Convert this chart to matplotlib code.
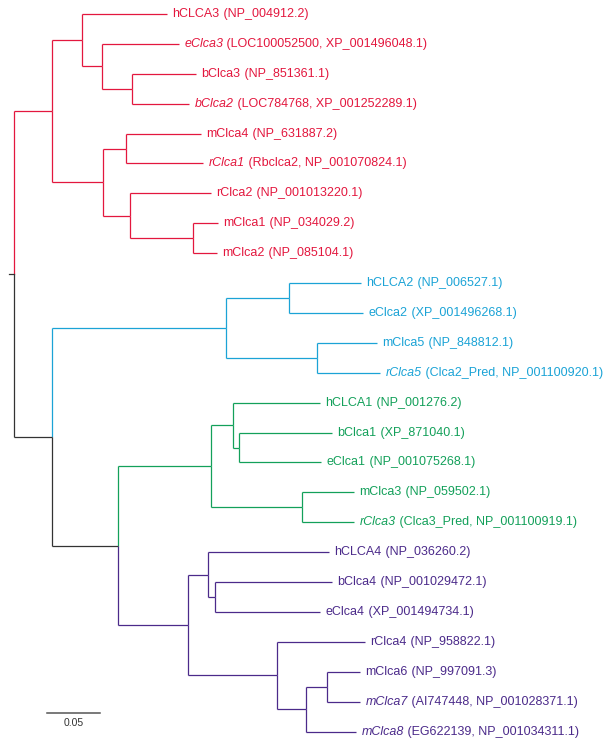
import matplotlib
matplotlib.use("Agg")
from matplotlib import pyplot as plt

plt.rcParams["font.family"] = "Liberation Sans"

# Tree topology: node -> [(child, branch length)], children listed top to bottom
children = {
    "root": [("A", 0.0358), ("I", 0.0358)],
    "A": [("B", 0.0283), ("E", 0.0481)],
    "B": [("hCLCA3", 0.0802), ("C", 0.0189)],
    "C": [("eClca3", 0.0726), ("D", 0.0283)],
    "D": [("bClca3", 0.0604), ("bClca2", 0.0538)],
    "E": [("F", 0.0217), ("G", 0.0255)],
    "F": [("mClca4", 0.0708), ("rClca1", 0.0726)],
    "G": [("rClca2", 0.0764), ("H", 0.0594)],
    "H": [("mClca1", 0.0236), ("mClca2", 0.0226)],
    "I": [("K", 0.1642), ("J", 0.0623)],
    "K": [("L", 0.0594), ("M", 0.0858)],
    "L": [("hCLCA2", 0.0679), ("eClca2", 0.0698)],
    "M": [("mClca5", 0.0566), ("rClca5", 0.0594)],
    "J": [("N", 0.0877), ("R", 0.0660)],
    "N": [("O", 0.0208), ("Q", 0.0858)],
    "O": [("hCLCA1", 0.0821), ("P", 0.0057)],
    "P": [("bClca1", 0.0877), ("eClca1", 0.0774)],
    "Q": [("mClca3", 0.0491), ("rClca3", 0.0491)],
    "R": [("S", 0.0189), ("U", 0.0840)],
    "S": [("hCLCA4", 0.1142), ("T", 0.0066)],
    "T": [("bClca4", 0.1104), ("eClca4", 0.0991)],
    "U": [("rClca4", 0.0830), ("V", 0.0274)],
    "V": [("W", 0.0198), ("mClca8", 0.0472)],
    "W": [("mClca6", 0.0311), ("mClca7", 0.0311)],
}

# Accession text shown after each leaf name
accessions = {
    "hCLCA3": "(NP_004912.2)",
    "eClca3": "(LOC100052500, XP_001496048.1)",
    "bClca3": "(NP_851361.1)",
    "bClca2": "(LOC784768, XP_001252289.1)",
    "mClca4": "(NP_631887.2)",
    "rClca1": "(Rbclca2, NP_001070824.1)",
    "rClca2": "(NP_001013220.1)",
    "mClca1": "(NP_034029.2)",
    "mClca2": "(NP_085104.1)",
    "hCLCA2": "(NP_006527.1)",
    "eClca2": "(XP_001496268.1)",
    "mClca5": "(NP_848812.1)",
    "rClca5": "(Clca2_Pred, NP_001100920.1)",
    "hCLCA1": "(NP_001276.2)",
    "bClca1": "(XP_871040.1)",
    "eClca1": "(NP_001075268.1)",
    "mClca3": "(NP_059502.1)",
    "rClca3": "(Clca3_Pred, NP_001100919.1)",
    "hCLCA4": "(NP_036260.2)",
    "bClca4": "(NP_001029472.1)",
    "eClca4": "(XP_001494734.1)",
    "rClca4": "(NP_958822.1)",
    "mClca6": "(NP_997091.3)",
    "mClca7": "(AI747448, NP_001028371.1)",
    "mClca8": "(EG622139, NP_001034311.1)",
}
italicNames = {"eClca3", "bClca2", "rClca1", "rClca5", "rClca3", "mClca7", "mClca8"}

red, blue, green, purple, black = "#e3173e", "#1ba3d6", "#13a05a", "#4b2a8a", "#333333"
cladeColors = {"root": black, "A": red, "I": black, "K": blue, "J": black,
               "N": green, "R": purple}

scaleBar = 0.05
fontSize = 9.0

fig = plt.figure(figsize=(6.13, 7.48), dpi=100)
ax = fig.add_axes([0, 0, 1, 1])
ax.axis("off")

leafCounter = [0]


def layout(node, x, color):
    color = cladeColors.get(node, color)
    if node not in children:
        y = leafCounter[0]
        leafCounter[0] += 1
        return y, [(node, x, y, color)]
    kids = []
    leaves = []
    for child, length in children[node]:
        cy, cl = layout(child, x + length, cladeColors.get(child, color))
        kids.append((child, x + length, cy, cladeColors.get(child, color)))
        leaves += cl
    y = (kids[0][2] + kids[-1][2]) / 2
    for child, cx, cy, ccolor in kids:
        ax.plot([x, x], [y, cy], color=ccolor, lw=0.9, solid_capstyle="butt")
        ax.plot([x, cx], [cy, cy], color=ccolor, lw=0.9, solid_capstyle="butt")
    return y, leaves


rootY, leaves = layout("root", 0.0, black)
ax.plot([-0.0047, 0.0], [rootY, rootY], color=black, lw=0.9)

for name, x, y, color in leaves:
    nameText = ax.annotate(name, (x, y), xytext=(4, 0), textcoords="offset points",
                           va="center", ha="left", fontsize=fontSize, color=color,
                           style="italic" if name in italicNames else "normal")
    ax.annotate(" " + accessions[name], xy=(1, 0.5), xycoords=nameText,
                va="center", ha="left", fontsize=fontSize, color=color)

# scale bar
barY = 23.38
ax.plot([0.0311, 0.0311 + scaleBar], [barY, barY], color="#555555", lw=1.1)
ax.text(0.0311 + scaleBar / 2, barY + 0.35, f"{scaleBar:.2f}", ha="center",
        va="center", fontsize=7.5, color="#333333")

ax.set_xlim(-14 / 1060, 599 / 1060)
ax.set_ylim(24.55, -0.468)

plt.savefig("out.png", dpi=100)
